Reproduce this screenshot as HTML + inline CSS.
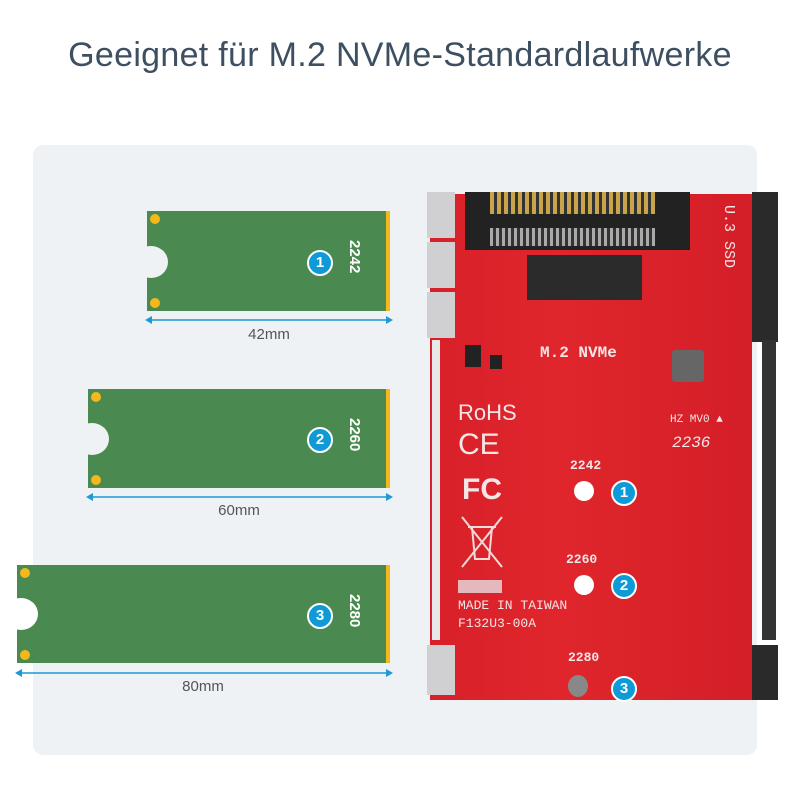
<!DOCTYPE html>
<html><head><meta charset="utf-8"><style>
body{margin:0;width:800px;height:800px;background:#fff;position:relative;overflow:hidden;font-family:"Liberation Sans",sans-serif}
.a{position:absolute}
.title{left:0;width:800px;top:36px;text-align:center;font-size:34px;color:#3d4f60;letter-spacing:0.3px}
.panel{left:33px;top:145px;width:724px;height:610px;background:#eef2f5;border-radius:10px}
.card{background:#4a8a50}
.gold{background:#f5b81c}
.dot{width:10px;height:10px;border-radius:50%;background:#f5b81c}
.hole{width:26px;height:26px;border-radius:50%;background:#eef2f5}
.num{width:22px;height:22px;border-radius:50%;background:#0e9ad7;border:2px solid #fff;color:#fff;font-weight:bold;font-size:15px;text-align:center;line-height:22px}
.vlab{color:#fff;font-size:15px;font-weight:bold;transform:rotate(90deg);transform-origin:left top}
.mm{font-size:15px;color:#555;text-align:center;width:80px}
.wt{color:#f2e6e6;font-family:"Liberation Mono",monospace}
</style></head><body>
<div class="a title">Geeignet für M.2 NVMe-Standardlaufwerke</div>
<div class="a panel"></div>

<!-- card1 -->
<div class="a card" style="left:147px;top:211px;width:239px;height:100px"></div>
<div class="a gold" style="left:386px;top:211px;width:4px;height:100px"></div>
<div class="a hole" style="left:134px;top:246px;width:34px;height:32px"></div>
<div class="a dot" style="left:150px;top:214px"></div>
<div class="a dot" style="left:150px;top:298px"></div>
<div class="a num" style="left:307px;top:250px">1</div>
<div class="a vlab" style="left:363px;top:240px">2242</div>
<svg class="a" style="left:145px;top:313px" width="248" height="14"><line x1="4" y1="7" x2="244" y2="7" stroke="#1a9ad6" stroke-width="1.5"/><path d="M0 7 L7 3 L7 11Z M248 7 L241 3 L241 11Z" fill="#1a9ad6"/></svg>
<div class="a mm" style="left:229px;top:326px">42mm</div>

<!-- card2 -->
<div class="a card" style="left:88px;top:389px;width:298px;height:99px"></div>
<div class="a gold" style="left:386px;top:389px;width:4px;height:99px"></div>
<div class="a hole" style="left:75px;top:423px;width:34px;height:32px"></div>
<div class="a dot" style="left:91px;top:392px"></div>
<div class="a dot" style="left:91px;top:475px"></div>
<div class="a num" style="left:307px;top:427px">2</div>
<div class="a vlab" style="left:363px;top:418px">2260</div>
<svg class="a" style="left:86px;top:490px" width="307" height="14"><line x1="4" y1="7" x2="303" y2="7" stroke="#1a9ad6" stroke-width="1.5"/><path d="M0 7 L7 3 L7 11Z M307 7 L300 3 L300 11Z" fill="#1a9ad6"/></svg>
<div class="a mm" style="left:199px;top:502px">60mm</div>

<!-- card3 -->
<div class="a card" style="left:17px;top:565px;width:369px;height:98px"></div>
<div class="a gold" style="left:386px;top:565px;width:4px;height:98px"></div>
<div class="a hole" style="left:4px;top:598px;width:34px;height:32px;background:#fff"></div>
<div class="a dot" style="left:20px;top:568px"></div>
<div class="a dot" style="left:20px;top:650px"></div>
<div class="a num" style="left:307px;top:603px">3</div>
<div class="a vlab" style="left:363px;top:594px">2280</div>
<svg class="a" style="left:15px;top:666px" width="378" height="14"><line x1="4" y1="7" x2="374" y2="7" stroke="#1a9ad6" stroke-width="1.5"/><path d="M0 7 L7 3 L7 11Z M378 7 L371 3 L371 11Z" fill="#1a9ad6"/></svg>
<div class="a mm" style="left:163px;top:678px">80mm</div>

<!-- board -->
<div class="a" style="left:430px;top:194px;width:322px;height:506px;background:linear-gradient(90deg,#d8202a,#e0262c 40%,#d41e28);"></div>
<div class="a" style="left:427px;top:192px;width:28px;height:46px;background:#d0d0d2"></div>
<div class="a" style="left:427px;top:242px;width:28px;height:46px;background:#d0d0d2"></div>
<div class="a" style="left:427px;top:292px;width:28px;height:46px;background:#d0d0d2"></div>
<div class="a" style="left:752px;top:192px;width:26px;height:150px;background:#2a2a2a"></div>
<div class="a" style="left:432px;top:340px;width:8px;height:300px;background:#e8e8e8"></div>
<div class="a" style="left:762px;top:340px;width:14px;height:300px;background:#333"></div>
<div class="a" style="left:752px;top:645px;width:26px;height:55px;background:#2a2a2a"></div>
<div class="a" style="left:427px;top:645px;width:28px;height:50px;background:#d0d0d2"></div>
<!-- connector -->
<div class="a" style="left:465px;top:192px;width:225px;height:58px;background:#222"></div>
<div class="a" style="left:490px;top:192px;width:165px;height:22px;background:repeating-linear-gradient(90deg,#c9a44a 0 4px,#333 4px 7px)"></div>
<div class="a" style="left:490px;top:228px;width:165px;height:18px;background:repeating-linear-gradient(90deg,#aaa 0 3px,#333 3px 6px)"></div>
<div class="a" style="left:527px;top:255px;width:115px;height:45px;background:#2b2b2b"></div>
<div class="a" style="left:672px;top:350px;width:32px;height:32px;background:#666;border-radius:3px"></div>
<div class="a" style="left:465px;top:345px;width:16px;height:22px;background:#222"></div>
<div class="a" style="left:490px;top:355px;width:12px;height:14px;background:#222"></div>
<div class="a wt" style="left:540px;top:344px;font-size:16px;font-weight:bold">M.2 NVMe</div>
<div class="a wt" style="left:720px;top:205px;font-size:15px;writing-mode:vertical-rl">U.3 SSD</div>
<div class="a wt" style="left:458px;top:400px;font-size:22px;font-family:'Liberation Sans',sans-serif">RoHS</div>
<div class="a wt" style="left:458px;top:428px;font-size:30px;font-family:'Liberation Sans',sans-serif">CE</div>
<div class="a wt" style="left:462px;top:473px;font-size:30px;font-weight:bold;font-family:'Liberation Sans',sans-serif">FC</div>
<div class="a wt" style="left:670px;top:414px;font-size:11px">HZ MV0 ▲</div>
<div class="a wt" style="left:672px;top:434px;font-size:16px;font-style:italic">2236</div>
<div class="a" style="left:458px;top:580px;width:44px;height:13px;background:#e4b8bc"></div>
<div class="a wt" style="left:458px;top:598px;font-size:13px">MADE IN TAIWAN</div>
<div class="a wt" style="left:458px;top:616px;font-size:13px">F132U3-00A</div>
<svg class="a" style="left:460px;top:515px" width="44" height="55"><g stroke="#f0dada" stroke-width="2" fill="none"><path d="M8 12h28M12 12l3 32h14l3-32M2 2l40 50M42 2L2 52"/></g></svg>
<div class="a wt" style="left:570px;top:458px;font-size:13px;font-weight:bold">2242</div>
<div class="a wt" style="left:566px;top:552px;font-size:13px;font-weight:bold">2260</div>
<div class="a wt" style="left:568px;top:650px;font-size:13px;font-weight:bold">2280</div>
<div class="a" style="left:574px;top:481px;width:20px;height:20px;border-radius:50%;background:#fff"></div>
<div class="a" style="left:574px;top:575px;width:20px;height:20px;border-radius:50%;background:#fff"></div>
<div class="a" style="left:568px;top:675px;width:20px;height:22px;border-radius:50%;background:#888"></div>
<div class="a num" style="left:611px;top:480px">1</div>
<div class="a num" style="left:611px;top:573px">2</div>
<div class="a num" style="left:611px;top:676px">3</div>
</body></html>
